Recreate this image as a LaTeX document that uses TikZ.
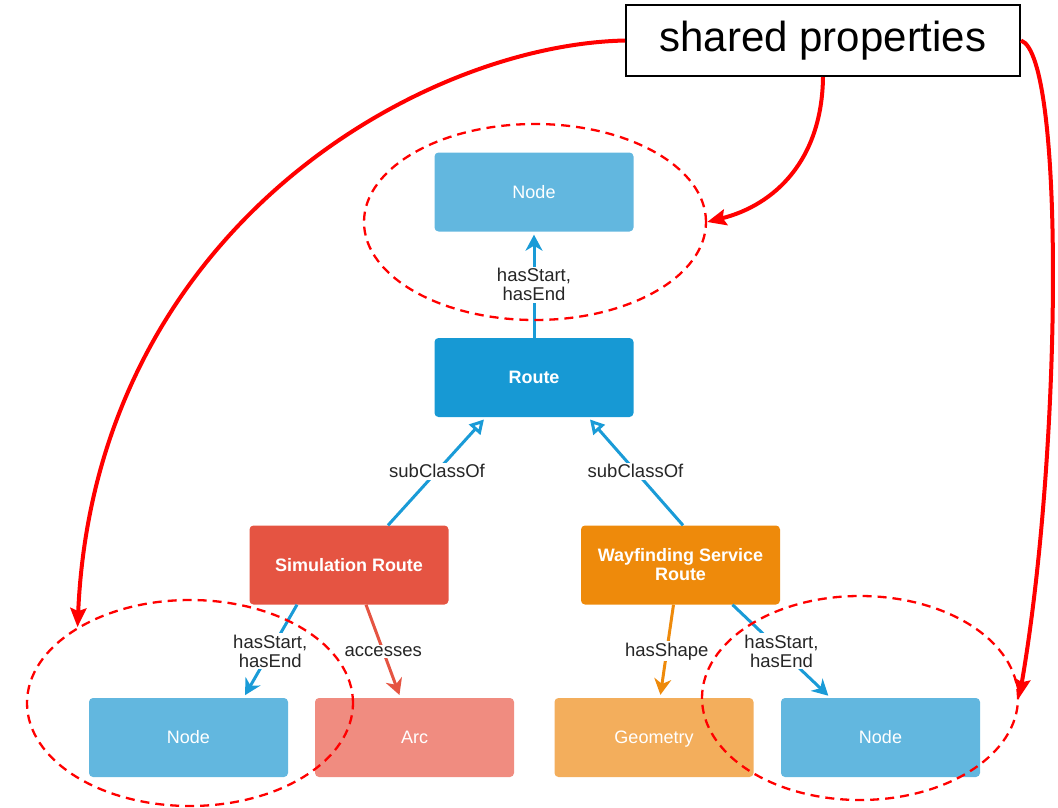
\documentclass[tikz,border=0pt]{standalone}
\usepackage{fontspec}
\setmainfont{Liberation Sans}
\usetikzlibrary{arrows.meta,shapes.geometric}
\definecolor{nodeblue}{HTML}{62B7DF}
\definecolor{routeblue}{HTML}{1799D4}
\definecolor{simred}{HTML}{E55442}
\definecolor{wayorange}{HTML}{EE8A0B}
\definecolor{arcsalmon}{HTML}{F08C80}
\definecolor{geomorange}{HTML}{F3AE5C}
\definecolor{edgeblue}{HTML}{1A9BD7}
\begin{document}
\begin{tikzpicture}
    [x=1pt,y=-1pt,
     box/.style={rectangle,rounded corners=4pt,minimum width=199pt,minimum height=79pt,
                 inner sep=0pt,text=white,font=\fontsize{18}{19}\selectfont},
     cls/.style={box,font=\bfseries\fontsize{18}{19}\selectfont},
     lbl/.style={fill=white,inner sep=1.5pt,align=center,text=black!85,font=\fontsize{18.5}{19}\selectfont},
     rel/.style={line width=3pt,draw=edgeblue,-{Stealth[length=16pt,width=17pt,inset=5pt]},shorten >=3pt},
     sub/.style={line width=3pt,draw=edgeblue,-{Triangle[open,length=14pt,width=15pt]},shorten >=3pt},
     group/.style={ellipse,draw=red,line width=2.3pt,dash pattern=on 9pt off 6pt,inner sep=0pt},
     note/.style={line width=4pt,draw=red,-{Stealth[length=19pt,width=16pt,inset=3pt]}}]
    \useasboundingbox (0,0) rectangle (1058,808);

    % classes
    \node [box,fill=nodeblue] (nodetop) at (534,192) {Node};
    \node [cls,fill=routeblue] (route) at (534,377.5) {Route};
    \node [cls,fill=simred] (simroute) at (349,565) {Simulation Route};
    \node [cls,fill=wayorange,align=center] (wayroute) at (680.5,565) {Wayfinding Service\\Route};
    \node [box,fill=nodeblue] (nodeleft) at (188.5,737.5) {Node};
    \node [box,fill=arcsalmon] (arc) at (414.5,737.5) {Arc};
    \node [box,fill=geomorange,text depth=0pt] (geometry) at (654,737.5) {Geometry};
    \node [box,fill=nodeblue] (noderight) at (880.5,737.5) {Node};

    % relations
    \draw [rel] (route) -- node[lbl] {hasStart,\\hasEnd} (nodetop);
    \draw [sub] ([xshift=39pt]simroute.north) -- node[lbl] {subClassOf} ([xshift=-48pt]route.south);
    \draw [sub] ([xshift=2.5pt]wayroute.north) -- node[lbl] {subClassOf} ([xshift=54pt]route.south);
    \draw [rel] ([xshift=-52pt]simroute.south) -- node[lbl] {hasStart,\\hasEnd} ([xshift=55pt]nodeleft.north);
    \draw [rel,draw=simred] ([xshift=17pt]simroute.south) -- node[lbl] {accesses} ([xshift=-14pt]arc.north);
    \draw [rel,draw=wayorange] ([xshift=-7pt]wayroute.south) -- node[lbl] {hasShape} ([xshift=6pt]geometry.north);
    \draw [rel] ([xshift=52pt]wayroute.south) -- node[lbl] {hasStart,\\hasEnd} ([xshift=-50pt]noderight.north);

    % groups with the same properties
    \node [group,minimum width=342pt,minimum height=196pt] (groupT) at (535,222) {};
    \node [group,minimum width=326pt,minimum height=206pt] (groupL) at (190,703) {};
    \node [group,minimum width=316pt,minimum height=204pt] (groupR) at (860,698) {};

    \node [draw=black,line width=2pt,minimum width=394pt,minimum height=71pt,
           font=\fontsize{42}{48}\selectfont] (shared) at (823,40.5) {shared properties};
    \draw [note] (shared.west) .. controls (420,45) and (95,230) .. (groupL.146);
    \draw [note] (shared.south) .. controls (822,160) and (775,205) .. (groupT.east);
    \draw [note] (shared.east) .. controls (1065,55) and (1062,450) .. (groupR.east);
\end{tikzpicture}
\end{document}
